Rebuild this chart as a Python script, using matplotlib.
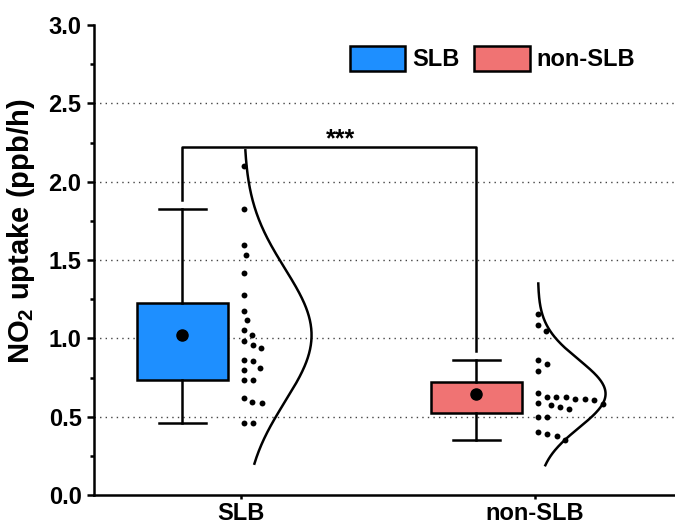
import numpy as np
import matplotlib
matplotlib.use("Agg")
import matplotlib.pyplot as plt
from matplotlib.patches import Patch
from matplotlib.ticker import MultipleLocator, FormatStrFormatter

plt.rcParams['font.family'] = ['Liberation Sans', 'DejaVu Sans']
plt.rcParams['font.weight'] = 'bold'
plt.rcParams['mathtext.fontset'] = 'custom'
plt.rcParams['mathtext.rm'] = 'Liberation Sans:bold'
plt.rcParams['mathtext.bf'] = 'Liberation Sans:bold'

# data (ppb/h)
groups = ["SLB", "non-SLB"]
colors = ["#1E8FFF", "#F07373"]
slb = [2.10, 1.825, 1.593, 1.534, 1.419, 1.274, 1.172, 1.115, 1.051, 1.023,
       0.985, 0.959, 0.936, 0.862, 0.853, 0.808, 0.796, 0.734, 0.734, 0.621,
       0.593, 0.585, 0.457, 0.457]
non_slb = [1.157, 1.085, 1.049, 0.860, 0.834, 0.793, 0.649, 0.627, 0.627, 0.623,
           0.611, 0.611, 0.606, 0.585, 0.581, 0.572, 0.564, 0.551, 0.498, 0.498,
           0.402, 0.389, 0.379, 0.351]
# y range covered by the fitted normal curves
curve_lo = [0.20, 0.19]
curve_hi = [2.20, 1.35]
signif = "***"


def box_stats(vals):
    v = np.asarray(vals)
    q1, med, q3 = np.percentile(v, [25, 50, 75], method='hazen')
    iqr = q3 - q1
    return dict(med=med, q1=q1, q3=q3, mean=v.mean(),
                whislo=v[v >= q1 - 1.5 * iqr].min(),
                whishi=v[v <= q3 + 1.5 * iqr].max(), fliers=[])


def swarm_offsets(vals, xs, ys, dist):
    # one sided beeswarm in pixel space: each dot goes to the smallest
    # offset to the right where it does not touch a dot already placed
    placed = []
    out = []
    for v in vals:
        y = v * ys
        cands = [0.0]
        for px, py in placed:
            dy = abs(y - py)
            if dy < dist:
                cands.append(px + np.sqrt(dist ** 2 - dy ** 2))
        for c in sorted(cands):
            if all((c - px) ** 2 + (y - py) ** 2 >= dist ** 2 - 1e-6 for px, py in placed):
                break
        placed.append((c, y))
        out.append(c / xs)
    return np.array(out)


data = [slb, non_slb]
pos = np.arange(1, len(groups) + 1)
box_off = -0.2

fig = plt.figure(figsize=(6.75, 5.27), dpi=100)
ax = fig.add_axes([94 / 675, 32 / 527, 588 / 675, 470 / 527])
ax.set_xlim(0.5, 2.5)
ax.set_ylim(0, 3.0)
# pixels per data unit
x_px = 588 / 2.0
y_px = 470 / 3.0

stats = [box_stats(d) for d in data]
bp = ax.bxp(stats, positions=pos + box_off, widths=0.31, capwidths=0.16,
            patch_artist=True, showmeans=True, showfliers=False,
            boxprops=dict(linewidth=1.8, edgecolor='k'),
            whiskerprops=dict(linewidth=1.8, color='k'),
            capprops=dict(linewidth=1.8, color='k'),
            meanprops=dict(marker='o', markerfacecolor='k', markeredgecolor='k',
                           markersize=8))
for patch, c in zip(bp['boxes'], colors):
    patch.set_facecolor(c)
for line in bp['medians']:
    line.set_visible(False)

for i, d in enumerate(data):
    d = np.asarray(d)
    offs = swarm_offsets(d, x_px, y_px, 9.5)
    ax.scatter(pos[i] + 0.01 + offs, d, s=18, color='k', lw=0, zorder=3)
    # normal curve from the group mean and sd
    yy = np.linspace(curve_lo[i], curve_hi[i], 300)
    m, sd = d.mean(), d.std(ddof=1)
    xx = pos[i] + 0.01 + 0.23 * np.exp(-(yy - m) ** 2 / (2 * sd ** 2))
    ax.plot(xx, yy, color='k', lw=1.8)

# significance bracket
top = max(curve_hi) + 0.02
x1, x2 = pos[0] + box_off, pos[1] + box_off
ax.plot([x1, x1, x2, x2], [stats[0]['whishi'] + 0.06, top, top, stats[1]['whishi'] + 0.06],
        color='k', lw=1.8)
ax.text((x1 + x2) / 2 + 0.04, top + 0.05, signif, ha='center', va='center',
        fontsize=18, fontweight='bold')

for y in np.arange(0.5, 3.0, 0.5):
    ax.axhline(y, color='#444444', lw=1, ls=(0, (1, 3)), zorder=0)

ax.set_xticks(pos)
ax.set_xticklabels(groups, fontsize=17, fontweight='bold')
ax.yaxis.set_major_locator(MultipleLocator(0.5))
ax.yaxis.set_minor_locator(MultipleLocator(0.25))
ax.yaxis.set_major_formatter(FormatStrFormatter('%.1f'))
for lab in ax.get_yticklabels():
    lab.set_fontsize(17)
    lab.set_fontweight('bold')
ax.tick_params(axis='y', which='major', length=5, width=1.8, pad=4)
ax.tick_params(axis='y', which='minor', length=3, width=1.8)
ax.tick_params(axis='x', length=3, width=1.8, pad=2)
ax.set_ylabel('NO$_\\mathbf{2}$ uptake (ppb/h)', fontsize=21, fontweight='bold')
ax.yaxis.set_label_coords(-0.097, 0.56)

ax.spines['top'].set_visible(False)
ax.spines['right'].set_visible(False)
ax.spines['left'].set_linewidth(1.8)
ax.spines['bottom'].set_linewidth(1.8)

handles = [Patch(facecolor=c, edgecolor='k', linewidth=1.8) for c in colors]
ax.legend(handles, groups, loc='center', bbox_to_anchor=(0.678, 0.928), ncol=2,
          frameon=False, prop=dict(size=17, weight='bold'), handlelength=2.35,
          handleheight=1.2, handletextpad=0.3, columnspacing=0.6)

fig.savefig('out.png', dpi=100)
